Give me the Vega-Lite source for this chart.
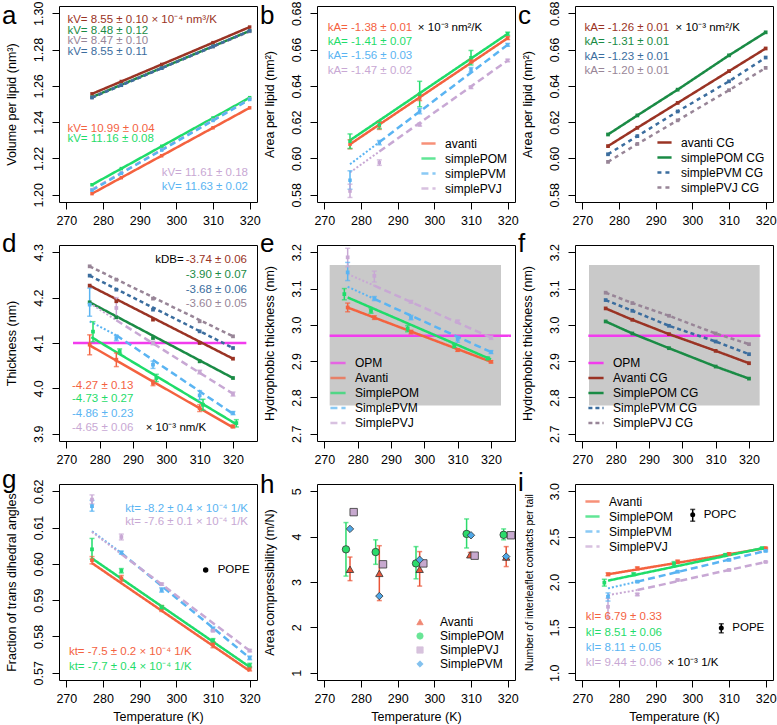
{
"$schema": "https://vega.github.io/schema/vega-lite/v6.json",
"padding": {"left": 1, "top": 0, "right": 4, "bottom": 2},
"columns": 3,
"bounds": "flush",
"spacing": {"row": 43, "column": 60},
"resolve": {"scale": {"color": "independent", "strokeDash": "independent", "shape": "independent"}, "legend": {"color": "independent", "strokeDash": "independent", "shape": "independent"}},
"config": {
 "font": "Liberation Sans",
 "view": {"stroke": "black", "strokeWidth": 1},
 "axis": {"grid": false, "domain": false, "tickColor": "black", "tickSize": 7, "tickWidth": 1, "labelColor": "black", "labelFontSize": 12.5, "labelPadding": 7, "labelFlush": false, "labelOverlap": false, "titleFontSize": 12.5, "titleFontWeight": "normal", "titleColor": "black"},
 "axisY": {"labelAngle": -90, "labelAlign": "center", "labelBaseline": "bottom", "titlePadding": 14},
 "axisX": {"titlePadding": 6, "labelPadding": 5},
 "legend": {"labelFontSize": 12, "labelColor": "black", "rowPadding": 0, "padding": 0, "labelOffset": 8},
 "title": {"anchor": "start", "frame": "group", "fontSize": 26, "fontWeight": "normal", "color": "black", "offset": 0, "dx": -57, "dy": 32, "baseline": "alphabetic"},
 "text": {"fontSize": 11.5, "align": "left", "baseline": "middle"},
 "tick": {"thickness": 1.5}
},
"datasets": {
 "a": [
  {"s":"avanti CG","T":277,"v":1.2556},{"s":"avanti CG","T":285,"v":1.2624},{"s":"avanti CG","T":296,"v":1.2718},{"s":"avanti CG","T":310,"v":1.2838},{"s":"avanti CG","T":320,"v":1.2924},
  {"s":"simplePOM CG","T":277,"v":1.2538},{"s":"simplePOM CG","T":285,"v":1.2606},{"s":"simplePOM CG","T":296,"v":1.2699},{"s":"simplePOM CG","T":310,"v":1.2818},{"s":"simplePOM CG","T":320,"v":1.2903},
  {"s":"simplePVJ CG","T":277,"v":1.2536},{"s":"simplePVJ CG","T":285,"v":1.2604},{"s":"simplePVJ CG","T":296,"v":1.2697},{"s":"simplePVJ CG","T":310,"v":1.2816},{"s":"simplePVJ CG","T":320,"v":1.2900},
  {"s":"simplePVM CG","T":277,"v":1.2535},{"s":"simplePVM CG","T":285,"v":1.2603},{"s":"simplePVM CG","T":296,"v":1.2697},{"s":"simplePVM CG","T":310,"v":1.2817},{"s":"simplePVM CG","T":320,"v":1.2903},
  {"s":"avanti","T":277,"v":1.2006},{"s":"avanti","T":285,"v":1.2094},{"s":"avanti","T":296,"v":1.2215},{"s":"avanti","T":310,"v":1.2369},{"s":"avanti","T":320,"v":1.2479},
  {"s":"simplePOM","T":277,"v":1.2055},{"s":"simplePOM","T":285,"v":1.2144},{"s":"simplePOM","T":296,"v":1.2267},{"s":"simplePOM","T":310,"v":1.2423},{"s":"simplePOM","T":320,"v":1.2535},
  {"s":"simplePVJ","T":277,"v":1.2028},{"s":"simplePVJ","T":285,"v":1.2121},{"s":"simplePVJ","T":296,"v":1.2249},{"s":"simplePVJ","T":310,"v":1.2411},{"s":"simplePVJ","T":320,"v":1.2527},
  {"s":"simplePVM","T":277,"v":1.2025},{"s":"simplePVM","T":285,"v":1.2118},{"s":"simplePVM","T":296,"v":1.2246},{"s":"simplePVM","T":310,"v":1.2409},{"s":"simplePVM","T":320,"v":1.2525}
 ],
 "b": [
  {"s":"avanti","T":277,"v":0.6078,"lo":0.6053,"hi":0.6103},{"s":"avanti","T":285,"v":0.6180,"lo":0.6160,"hi":0.6200},{"s":"avanti","T":296,"v":0.6334,"lo":0.6319,"hi":0.6349},{"s":"avanti","T":310,"v":0.6535,"lo":0.6525,"hi":0.6545},{"s":"avanti","T":320,"v":0.6663,"lo":0.6655,"hi":0.6671},
  {"s":"simplePOM","T":277,"v":0.6095,"lo":0.6055,"hi":0.6135},{"s":"simplePOM","T":285,"v":0.6185,"lo":0.6165,"hi":0.6205},{"s":"simplePOM","T":296,"v":0.6355,"lo":0.6285,"hi":0.6425},{"s":"simplePOM","T":310,"v":0.6555,"lo":0.6515,"hi":0.6595},{"s":"simplePOM","T":320,"v":0.6687,"lo":0.6678,"hi":0.6696},
  {"s":"simplePVM","T":277,"v":0.5880,"lo":0.5830,"hi":0.5932},{"s":"simplePVM","T":285,"v":0.6087,"lo":0.6075,"hi":0.6099},{"s":"simplePVM","T":296,"v":0.6261,"lo":0.6246,"hi":0.6276},{"s":"simplePVM","T":310,"v":0.6489,"lo":0.6477,"hi":0.6501},{"s":"simplePVM","T":320,"v":0.6626,"lo":0.6618,"hi":0.6634},
  {"s":"simplePVJ","T":277,"v":0.5820,"lo":0.5785,"hi":0.5858},{"s":"simplePVJ","T":285,"v":0.5977,"lo":0.5962,"hi":0.5992},{"s":"simplePVJ","T":296,"v":0.6186,"lo":0.6178,"hi":0.6194},{"s":"simplePVJ","T":310,"v":0.6392,"lo":0.6385,"hi":0.6399},{"s":"simplePVJ","T":320,"v":0.6540,"lo":0.6533,"hi":0.6547}
 ],
 "bf": [
  {"s":"avanti","p":"m","T":277,"v":0.6078},{"s":"avanti","p":"m","T":320,"v":0.6663},
  {"s":"simplePOM","p":"m","T":277,"v":0.6100},{"s":"simplePOM","p":"m","T":320,"v":0.6687},
  {"s":"simplePVM","p":"x","T":277,"v":0.5968},{"s":"simplePVM","p":"x","T":285,"v":0.6090},
  {"s":"simplePVM","p":"m","T":285,"v":0.6090},{"s":"simplePVM","p":"m","T":320,"v":0.6626},
  {"s":"simplePVJ","p":"x","T":277,"v":0.5923},{"s":"simplePVJ","p":"x","T":285,"v":0.6038},
  {"s":"simplePVJ","p":"m","T":285,"v":0.6038},{"s":"simplePVJ","p":"m","T":320,"v":0.6540}
 ],
 "c": [
  {"s":"avanti CG","T":277,"v":0.6068},{"s":"avanti CG","T":285,"v":0.6169},{"s":"avanti CG","T":296,"v":0.6306},{"s":"avanti CG","T":310,"v":0.6481},{"s":"avanti CG","T":320,"v":0.6606},
  {"s":"simplePOM CG","T":277,"v":0.6132},{"s":"simplePOM CG","T":285,"v":0.6237},{"s":"simplePOM CG","T":296,"v":0.6379},{"s":"simplePOM CG","T":310,"v":0.6568},{"s":"simplePOM CG","T":320,"v":0.6695},
  {"s":"simplePVM CG","T":277,"v":0.6023},{"s":"simplePVM CG","T":285,"v":0.6123},{"s":"simplePVM CG","T":296,"v":0.6259},{"s":"simplePVM CG","T":310,"v":0.6425},{"s":"simplePVM CG","T":320,"v":0.6556},
  {"s":"simplePVJ CG","T":277,"v":0.5981},{"s":"simplePVJ CG","T":285,"v":0.6080},{"s":"simplePVJ CG","T":296,"v":0.6210},{"s":"simplePVJ CG","T":310,"v":0.6376},{"s":"simplePVJ CG","T":320,"v":0.6499}
 ],
 "d": [
  {"s":"avanti CG","T":277,"v":4.2265},{"s":"avanti CG","T":285,"v":4.192},{"s":"avanti CG","T":296,"v":4.1515},{"s":"avanti CG","T":310,"v":4.100},{"s":"avanti CG","T":320,"v":4.0654},
  {"s":"simplePOM CG","T":277,"v":4.1897},{"s":"simplePOM CG","T":285,"v":4.1566},{"s":"simplePOM CG","T":296,"v":4.111},{"s":"simplePOM CG","T":310,"v":4.0596},{"s":"simplePOM CG","T":320,"v":4.0228},
  {"s":"simplePVM CG","T":277,"v":4.2485},{"s":"simplePVM CG","T":285,"v":4.2176},{"s":"simplePVM CG","T":296,"v":4.1735},{"s":"simplePVM CG","T":310,"v":4.1257},{"s":"simplePVM CG","T":320,"v":4.089},
  {"s":"simplePVJ CG","T":277,"v":4.269},{"s":"simplePVJ CG","T":285,"v":4.2397},{"s":"simplePVJ CG","T":296,"v":4.1978},{"s":"simplePVJ CG","T":310,"v":4.1478},{"s":"simplePVJ CG","T":320,"v":4.1147},
  {"s":"avanti","T":277,"v":4.0963,"lo":4.074,"hi":4.118},{"s":"avanti","T":285,"v":4.0632,"lo":4.048,"hi":4.078},{"s":"avanti","T":296,"v":4.0118,"lo":4.006,"hi":4.018},{"s":"avanti","T":310,"v":3.9566,"lo":3.949,"hi":3.964},{"s":"avanti","T":320,"v":3.9162,"lo":3.913,"hi":3.919},
  {"s":"simplePOM","T":278,"v":4.125,"lo":4.103,"hi":4.147},{"s":"simplePOM","T":286,"v":4.0816,"lo":4.077,"hi":4.087},{"s":"simplePOM","T":297,"v":4.0228,"lo":4.015,"hi":4.031},{"s":"simplePOM","T":311,"v":3.964,"lo":3.952,"hi":3.976},{"s":"simplePOM","T":321,"v":3.9235,"lo":3.915,"hi":3.931},
  {"s":"simplePVM","T":277,"v":4.1846,"lo":4.159,"hi":4.221},{"s":"simplePVM","T":285,"v":4.111,"lo":4.105,"hi":4.117},{"s":"simplePVM","T":296,"v":4.0522,"lo":4.044,"hi":4.060},{"s":"simplePVM","T":310,"v":3.9846,"lo":3.975,"hi":3.995},{"s":"simplePVM","T":320,"v":3.9456,"lo":3.942,"hi":3.949},
  {"s":"simplePVJ","T":285,"v":4.1772,"lo":4.155,"hi":4.20},{"s":"simplePVJ","T":296,"v":4.10,"lo":4.096,"hi":4.104},{"s":"simplePVJ","T":310,"v":4.036,"lo":4.032,"hi":4.040},{"s":"simplePVJ","T":320,"v":3.9875,"lo":3.983,"hi":3.992}
 ],
 "df": [
  {"s":"avanti CG","p":"m","T":277,"v":4.2265},{"s":"avanti CG","p":"m","T":320,"v":4.0654},
  {"s":"simplePOM CG","p":"m","T":277,"v":4.1897},{"s":"simplePOM CG","p":"m","T":320,"v":4.0228},
  {"s":"simplePVM CG","p":"m","T":277,"v":4.2485},{"s":"simplePVM CG","p":"m","T":320,"v":4.089},
  {"s":"simplePVJ CG","p":"m","T":277,"v":4.269},{"s":"simplePVJ CG","p":"m","T":320,"v":4.1147},
  {"s":"avanti","p":"m","T":277,"v":4.0949},{"s":"avanti","p":"m","T":320,"v":3.914},
  {"s":"simplePOM","p":"m","T":277.5,"v":4.113},{"s":"simplePOM","p":"m","T":321,"v":3.921},
  {"s":"simplePVM","p":"x","T":277,"v":4.1478},{"s":"simplePVM","p":"x","T":285,"v":4.117},
  {"s":"simplePVM","p":"m","T":285,"v":4.117},{"s":"simplePVM","p":"m","T":320,"v":3.944},
  {"s":"simplePVJ","p":"x","T":277,"v":4.188},{"s":"simplePVJ","p":"x","T":285,"v":4.150},
  {"s":"simplePVJ","p":"m","T":285,"v":4.150},{"s":"simplePVJ","p":"m","T":320,"v":3.988}
 ],
 "e": [
  {"s":"Avanti","T":277,"v":3.0478,"lo":3.036,"hi":3.060},{"s":"Avanti","T":285,"v":3.020,"lo":3.015,"hi":3.025},{"s":"Avanti","T":296,"v":2.9804,"lo":2.975,"hi":2.985},{"s":"Avanti","T":310,"v":2.9306,"lo":2.927,"hi":2.934},{"s":"Avanti","T":320,"v":2.8983,"lo":2.895,"hi":2.901},
  {"s":"SimplePOM","T":276,"v":3.0847,"lo":3.069,"hi":3.100},{"s":"SimplePOM","T":284,"v":3.0386,"lo":3.032,"hi":3.045},{"s":"SimplePOM","T":295,"v":2.9897,"lo":2.981,"hi":2.998},{"s":"SimplePOM","T":309,"v":2.9417,"lo":2.937,"hi":2.946},{"s":"SimplePOM","T":319,"v":2.9076,"lo":2.904,"hi":2.911},
  {"s":"SimplePVM","T":277,"v":3.1446,"lo":3.122,"hi":3.172},{"s":"SimplePVM","T":285,"v":3.0727,"lo":3.067,"hi":3.078},{"s":"SimplePVM","T":296,"v":3.020,"lo":3.014,"hi":3.026},{"s":"SimplePVM","T":310,"v":2.9601,"lo":2.952,"hi":2.968},{"s":"SimplePVM","T":320,"v":2.925,"lo":2.921,"hi":2.929},
  {"s":"SimplePVJ","T":277,"v":3.186,"lo":3.160,"hi":3.211},{"s":"SimplePVJ","T":285,"v":3.135,"lo":3.118,"hi":3.148},{"s":"SimplePVJ","T":296,"v":3.0635,"lo":3.060,"hi":3.067},{"s":"SimplePVJ","T":310,"v":3.009,"lo":3.005,"hi":3.013},{"s":"SimplePVJ","T":320,"v":2.9647,"lo":2.960,"hi":2.969}
 ],
 "ef": [
  {"s":"Avanti","p":"m","T":277,"v":3.0478},{"s":"Avanti","p":"m","T":320,"v":2.8983},
  {"s":"SimplePOM","p":"m","T":277,"v":3.0755},{"s":"SimplePOM","p":"m","T":320,"v":2.9048},
  {"s":"SimplePVM","p":"x","T":277,"v":3.105},{"s":"SimplePVM","p":"x","T":285,"v":3.0715},
  {"s":"SimplePVM","p":"m","T":285,"v":3.0715},{"s":"SimplePVM","p":"m","T":320,"v":2.925},
  {"s":"SimplePVJ","p":"x","T":277,"v":3.14},{"s":"SimplePVJ","p":"x","T":285,"v":3.108},
  {"s":"SimplePVJ","p":"m","T":285,"v":3.108},{"s":"SimplePVJ","p":"m","T":320,"v":2.965}
 ],
 "f": [
  {"s":"Avanti CG","T":277,"v":3.0453},{"s":"Avanti CG","T":285,"v":3.014},{"s":"Avanti CG","T":296,"v":2.9744},{"s":"Avanti CG","T":310,"v":2.9284},{"s":"Avanti CG","T":320,"v":2.8943},
  {"s":"SimplePOM CG","T":277,"v":3.0094},{"s":"SimplePOM CG","T":285,"v":2.9762},{"s":"SimplePOM CG","T":296,"v":2.9357},{"s":"SimplePOM CG","T":310,"v":2.8851},{"s":"SimplePOM CG","T":320,"v":2.8519},
  {"s":"SimplePVM CG","T":277,"v":3.0683},{"s":"SimplePVM CG","T":285,"v":3.0389},{"s":"SimplePVM CG","T":296,"v":2.9974},{"s":"SimplePVM CG","T":310,"v":2.9541},{"s":"SimplePVM CG","T":320,"v":2.9192},
  {"s":"SimplePVJ CG","T":277,"v":3.0886},{"s":"SimplePVJ CG","T":285,"v":3.06},{"s":"SimplePVJ CG","T":296,"v":3.025},{"s":"SimplePVJ CG","T":310,"v":2.9762},{"s":"SimplePVJ CG","T":320,"v":2.9468}
 ],
 "g": [
  {"s":"avanti","T":277,"v":0.6010,"lo":0.6000,"hi":0.6020},{"s":"avanti","T":285,"v":0.5960,"lo":0.5952,"hi":0.5968},{"s":"avanti","T":296,"v":0.5877,"lo":0.5869,"hi":0.5885},{"s":"avanti","T":310,"v":0.5777,"lo":0.5769,"hi":0.5785},{"s":"avanti","T":320,"v":0.5711,"lo":0.5705,"hi":0.5717},
  {"s":"simplePOM","T":277,"v":0.6040,"lo":0.6013,"hi":0.6070},{"s":"simplePOM","T":285,"v":0.5981,"lo":0.5975,"hi":0.5987},{"s":"simplePOM","T":296,"v":0.5880,"lo":0.5875,"hi":0.5885},{"s":"simplePOM","T":310,"v":0.5789,"lo":0.5784,"hi":0.5794},{"s":"simplePOM","T":320,"v":0.5720,"lo":0.5714,"hi":0.5726},
  {"s":"simplePVM","T":277,"v":0.6159,"lo":0.6145,"hi":0.6175},{"s":"simplePVM","T":285,"v":0.6031,"lo":0.6027,"hi":0.6035},{"s":"simplePVM","T":296,"v":0.5928,"lo":0.5922,"hi":0.5934},{"s":"simplePVM","T":310,"v":0.5821,"lo":0.5816,"hi":0.5826},{"s":"simplePVM","T":320,"v":0.5741,"lo":0.5736,"hi":0.5746},
  {"s":"simplePVJ","T":277,"v":0.6177,"lo":0.6165,"hi":0.6190},{"s":"simplePVJ","T":285,"v":0.6074,"lo":0.6066,"hi":0.6082},{"s":"simplePVJ","T":296,"v":0.5944,"lo":0.5941,"hi":0.5947},{"s":"simplePVJ","T":310,"v":0.5816,"lo":0.5813,"hi":0.5819},{"s":"simplePVJ","T":320,"v":0.5761,"lo":0.5758,"hi":0.5764}
 ],
 "gf": [
  {"s":"avanti","p":"m","T":277,"v":0.6002},{"s":"avanti","p":"m","T":320,"v":0.5705},
  {"s":"simplePOM","p":"m","T":277,"v":0.6015},{"s":"simplePOM","p":"m","T":320,"v":0.5716},
  {"s":"simplePVM","p":"x","T":277,"v":0.6090},{"s":"simplePVM","p":"x","T":285,"v":0.6030},
  {"s":"simplePVM","p":"m","T":285,"v":0.6030},{"s":"simplePVM","p":"m","T":320,"v":0.5741},
  {"s":"simplePVJ","p":"x","T":277,"v":0.6088},{"s":"simplePVJ","p":"x","T":285,"v":0.6027},
  {"s":"simplePVJ","p":"m","T":285,"v":0.6027},{"s":"simplePVJ","p":"m","T":320,"v":0.5761}
 ],
 "h": [
  {"s":"Avanti","T":277,"v":3.28,"lo":3.03,"hi":3.55},{"s":"Avanti","T":285,"v":3.19,"lo":2.59,"hi":3.80},{"s":"Avanti","T":296,"v":3.28,"lo":2.91,"hi":3.67},{"s":"Avanti","T":309.8,"v":3.60,"lo":3.55,"hi":3.65},{"s":"Avanti","T":319.6,"v":3.55,"lo":3.34,"hi":3.78},
  {"s":"SimplePOM","T":275.9,"v":3.72,"lo":3.13,"hi":4.31},{"s":"SimplePOM","T":284,"v":3.66,"lo":3.39,"hi":3.93},{"s":"SimplePOM","T":295,"v":3.41,"lo":3.07,"hi":3.78},{"s":"SimplePOM","T":308.8,"v":4.06,"lo":3.75,"hi":4.39},{"s":"SimplePOM","T":318.9,"v":4.04,"lo":3.93,"hi":4.17},
  {"s":"SimplePVJ","T":278,"v":4.54},{"s":"SimplePVJ","T":286,"v":3.39},{"s":"SimplePVJ","T":297,"v":3.41},{"s":"SimplePVJ","T":311,"v":3.58},{"s":"SimplePVJ","T":320.9,"v":4.03},
  {"s":"SimplePVM","T":277,"v":4.17},{"s":"SimplePVM","T":285,"v":2.69},{"s":"SimplePVM","T":296,"v":3.49},{"s":"SimplePVM","T":310,"v":4.03},{"s":"SimplePVM","T":319.6,"v":3.56}
 ],
 "i": [
  {"s":"Avanti","T":277,"v":2.085,"lo":2.07,"hi":2.10},{"s":"Avanti","T":285,"v":2.151,"lo":2.135,"hi":2.165},{"s":"Avanti","T":296,"v":2.225,"lo":2.21,"hi":2.24},{"s":"Avanti","T":310,"v":2.31,"lo":2.30,"hi":2.32},{"s":"Avanti","T":320,"v":2.373,"lo":2.365,"hi":2.38},
  {"s":"SimplePOM","T":276,"v":1.993,"lo":1.955,"hi":2.03},{"s":"SimplePOM","T":284,"v":2.085,"lo":2.07,"hi":2.10},{"s":"SimplePOM","T":295,"v":2.20,"lo":2.175,"hi":2.225},{"s":"SimplePOM","T":309,"v":2.30,"lo":2.29,"hi":2.31},{"s":"SimplePOM","T":319,"v":2.373,"lo":2.365,"hi":2.38},
  {"s":"SimplePVM","T":277,"v":1.838,"lo":1.79,"hi":1.88},{"s":"SimplePVM","T":285,"v":2.004,"lo":1.995,"hi":2.013},{"s":"SimplePVM","T":296,"v":2.114,"lo":2.105,"hi":2.123},{"s":"SimplePVM","T":310,"v":2.244,"lo":2.235,"hi":2.253},{"s":"SimplePVM","T":320,"v":2.343,"lo":2.335,"hi":2.35},
  {"s":"SimplePVJ","T":277,"v":1.727,"lo":1.60,"hi":1.82},{"s":"SimplePVJ","T":285,"v":1.863,"lo":1.85,"hi":1.875},{"s":"SimplePVJ","T":296,"v":2.022,"lo":2.015,"hi":2.03},{"s":"SimplePVJ","T":310,"v":2.133,"lo":2.125,"hi":2.14},{"s":"SimplePVJ","T":320,"v":2.221,"lo":2.215,"hi":2.227}
 ],
 "if": [
  {"s":"Avanti","p":"m","T":277,"v":2.085},{"s":"Avanti","p":"m","T":320,"v":2.373},
  {"s":"SimplePOM","p":"m","T":277,"v":2.015},{"s":"SimplePOM","p":"m","T":320,"v":2.38},
  {"s":"SimplePVM","p":"x","T":277,"v":1.93},{"s":"SimplePVM","p":"x","T":285,"v":2.004},
  {"s":"SimplePVM","p":"m","T":285,"v":2.004},{"s":"SimplePVM","p":"m","T":320,"v":2.343},
  {"s":"SimplePVJ","p":"x","T":277,"v":1.856},{"s":"SimplePVJ","p":"x","T":285,"v":1.911},
  {"s":"SimplePVJ","p":"m","T":285,"v":1.911},{"s":"SimplePVJ","p":"m","T":320,"v":2.221}
 ],
 "ref": [
  {"s":"POPC","T":300.1,"v":2.742,"lo":2.67,"hi":2.80},
  {"s":"POPE","T":307.9,"v":1.494,"lo":1.44,"hi":1.54}
 ],
 "refg": [
  {"s":"POPE","T":308,"v":0.5983}
 ]
},
"concat": [
 {
  "title": "a", "width": 198, "height": 196,
  "data": {"name": "a"},
  "encoding": {
   "x": {"field": "T", "type": "quantitative", "scale": {"domain": [268, 322], "nice": false, "zero": false}, "axis": {"values": [270, 280, 290, 300, 310, 320], "title": null}},
   "y": {"field": "v", "type": "quantitative", "scale": {"domain": [1.196, 1.304], "nice": false, "zero": false}, "axis": {"values": [1.2, 1.22, 1.24, 1.26, 1.28, 1.3], "format": ".2f", "title": "Volume per lipid (nm³)"}},
   "color": {"field": "s", "type": "nominal", "scale": {"domain": ["avanti CG", "simplePOM CG", "simplePVJ CG", "simplePVM CG", "avanti", "simplePOM", "simplePVJ", "simplePVM"], "range": ["#9A3324", "#1A8B45", "#988597", "#3B6D9E", "#F4623F", "#1FDC6A", "#C8A8D4", "#5AB4F2"]}, "legend": null}
  },
  "layer": [
   {"mark": {"type": "line", "strokeWidth": 2.5}, "encoding": {"strokeDash": {"field": "s", "type": "nominal", "scale": {"domain": ["avanti CG", "simplePOM CG", "simplePVJ CG", "simplePVM CG", "avanti", "simplePOM", "simplePVJ", "simplePVM"], "range": [[1, 0], [1, 0], [4, 3], [4, 3], [1, 0], [1, 0], [6, 4], [6, 4]]}, "legend": null}}},
   {"mark": {"type": "point", "shape": "square", "filled": true, "size": 12, "opacity": 1}},
   {"transform": [{"filter": "datum.s == 'avanti' && datum.T == 320"}], "mark": {"type": "text", "text": "kV= 8.55 ± 0.10 × 10⁻⁴ nm³/K"}, "encoding": {"x": {"datum": 270.3}, "y": {"datum": 1.2963}, "color": {"value": "#9A3324"}}},
   {"transform": [{"filter": "datum.s == 'avanti' && datum.T == 320"}], "mark": {"type": "text", "text": "kV= 8.48 ± 0.12"}, "encoding": {"x": {"datum": 270.3}, "y": {"datum": 1.2904}, "color": {"value": "#1A8B45"}}},
   {"transform": [{"filter": "datum.s == 'avanti' && datum.T == 320"}], "mark": {"type": "text", "text": "kV= 8.47 ± 0.10"}, "encoding": {"x": {"datum": 270.3}, "y": {"datum": 1.2845}, "color": {"value": "#988597"}}},
   {"transform": [{"filter": "datum.s == 'avanti' && datum.T == 320"}], "mark": {"type": "text", "text": "kV= 8.55 ± 0.11"}, "encoding": {"x": {"datum": 270.3}, "y": {"datum": 1.2786}, "color": {"value": "#3B6D9E"}}},
   {"transform": [{"filter": "datum.s == 'avanti' && datum.T == 320"}], "mark": {"type": "text", "text": "kV= 10.99 ± 0.04"}, "encoding": {"x": {"datum": 270.3}, "y": {"datum": 1.2364}, "color": {"value": "#F4623F"}}},
   {"transform": [{"filter": "datum.s == 'avanti' && datum.T == 320"}], "mark": {"type": "text", "text": "kV= 11.16 ± 0.08"}, "encoding": {"x": {"datum": 270.3}, "y": {"datum": 1.2305}, "color": {"value": "#1FDC6A"}}},
   {"transform": [{"filter": "datum.s == 'avanti' && datum.T == 320"}], "mark": {"type": "text", "text": "kV= 11.61 ± 0.18"}, "encoding": {"x": {"datum": 296}, "y": {"datum": 1.2118}, "color": {"value": "#C8A8D4"}}},
   {"transform": [{"filter": "datum.s == 'avanti' && datum.T == 320"}], "mark": {"type": "text", "text": "kV= 11.63 ± 0.02"}, "encoding": {"x": {"datum": 296}, "y": {"datum": 1.2044}, "color": {"value": "#5AB4F2"}}}
  ]
 },
 {
  "title": "b", "width": 198, "height": 196,
  "data": {"name": "b"},
  "encoding": {
   "x": {"field": "T", "type": "quantitative", "scale": {"domain": [268, 322], "nice": false, "zero": false}, "axis": {"values": [270, 280, 290, 300, 310, 320], "title": null}},
   "y": {"field": "v", "type": "quantitative", "scale": {"domain": [0.576, 0.684], "nice": false, "zero": false}, "axis": {"values": [0.58, 0.6, 0.62, 0.64, 0.66, 0.68], "format": ".2f", "title": "Area per lipid (nm²)"}},
   "color": {"field": "s", "type": "nominal", "scale": {"domain": ["avanti", "simplePOM", "simplePVM", "simplePVJ"], "range": ["#F4623F", "#1FDC6A", "#5AB4F2", "#C8A8D4"]}, "legend": {"title": null, "orient": "bottom-right", "offset": 7, "symbolType": "stroke", "symbolSize": 200, "symbolStrokeWidth": 2.5}}
  },
  "layer": [
   {"data": {"name": "bf"}, "transform": [{"filter": "datum.p == 'm'"}], "mark": {"type": "line", "strokeWidth": 2.5}, "encoding": {"strokeDash": {"field": "s", "type": "nominal", "scale": {"domain": ["avanti", "simplePOM", "simplePVM", "simplePVJ"], "range": [[1, 0], [1, 0], [7, 4], [7, 4]]}, "legend": {"title": null, "orient": "bottom-right", "offset": 7, "symbolType": "stroke", "symbolSize": 200, "symbolStrokeWidth": 2.5}}}},
   {"data": {"name": "bf"}, "transform": [{"filter": "datum.p == 'x'"}], "mark": {"type": "line", "strokeWidth": 2, "strokeDash": [2, 2]}},
   {"transform": [{"filter": {"field": "lo", "valid": true}}], "mark": {"type": "rule", "strokeWidth": 1.5}, "encoding": {"y": {"field": "lo", "type": "quantitative"}, "y2": {"field": "hi"}}},
   {"transform": [{"filter": {"field": "lo", "valid": true}}], "mark": {"type": "tick", "orient": "horizontal", "size": 5}, "encoding": {"y": {"field": "lo", "type": "quantitative"}}},
   {"transform": [{"filter": {"field": "lo", "valid": true}}], "mark": {"type": "tick", "orient": "horizontal", "size": 5}, "encoding": {"y": {"field": "hi", "type": "quantitative"}}},
   {"mark": {"type": "point", "shape": "square", "filled": true, "size": 12, "opacity": 1}},
   {"transform": [{"filter": "datum.s == 'avanti' && datum.T == 320"}], "mark": {"type": "text", "text": "kA= -1.38 ± 0.01"}, "encoding": {"x": {"datum": 270.9}, "y": {"datum": 0.6718}, "color": {"value": "#F4623F"}}},
   {"transform": [{"filter": "datum.s == 'avanti' && datum.T == 320"}], "mark": {"type": "text", "text": "× 10⁻³ nm²/K"}, "encoding": {"x": {"datum": 295.5}, "y": {"datum": 0.6718}, "color": {"value": "black"}}},
   {"transform": [{"filter": "datum.s == 'avanti' && datum.T == 320"}], "mark": {"type": "text", "text": "kA= -1.41 ± 0.07"}, "encoding": {"x": {"datum": 270.9}, "y": {"datum": 0.6639}, "color": {"value": "#1FDC6A"}}},
   {"transform": [{"filter": "datum.s == 'avanti' && datum.T == 320"}], "mark": {"type": "text", "text": "kA= -1.56 ± 0.03"}, "encoding": {"x": {"datum": 270.9}, "y": {"datum": 0.6562}, "color": {"value": "#5AB4F2"}}},
   {"transform": [{"filter": "datum.s == 'avanti' && datum.T == 320"}], "mark": {"type": "text", "text": "kA= -1.47 ± 0.02"}, "encoding": {"x": {"datum": 270.9}, "y": {"datum": 0.648}, "color": {"value": "#C8A8D4"}}}
  ]
 },
 {
  "title": "c", "width": 198, "height": 196,
  "data": {"name": "c"},
  "encoding": {
   "x": {"field": "T", "type": "quantitative", "scale": {"domain": [268, 322], "nice": false, "zero": false}, "axis": {"values": [270, 280, 290, 300, 310, 320], "title": null}},
   "y": {"field": "v", "type": "quantitative", "scale": {"domain": [0.576, 0.684], "nice": false, "zero": false}, "axis": {"values": [0.58, 0.6, 0.62, 0.64, 0.66, 0.68], "format": ".2f", "title": "Area per lipid (nm²)"}},
   "color": {"field": "s", "type": "nominal", "scale": {"domain": ["avanti CG", "simplePOM CG", "simplePVM CG", "simplePVJ CG"], "range": ["#9A3324", "#1A8B45", "#3B6D9E", "#988597"]}, "legend": {"title": null, "orient": "bottom-right", "offset": 8, "symbolType": "stroke", "symbolSize": 200, "symbolStrokeWidth": 2.5}}
  },
  "layer": [
   {"mark": {"type": "line", "strokeWidth": 2.5}, "encoding": {"strokeDash": {"field": "s", "type": "nominal", "scale": {"domain": ["avanti CG", "simplePOM CG", "simplePVM CG", "simplePVJ CG"], "range": [[1, 0], [1, 0], [4, 4], [4, 4]]}, "legend": {"title": null, "orient": "bottom-right", "offset": 8, "symbolType": "stroke", "symbolSize": 200, "symbolStrokeWidth": 2.5}}}},
   {"mark": {"type": "point", "shape": "square", "filled": true, "size": 14, "opacity": 1}},
   {"transform": [{"filter": "datum.s == 'avanti CG' && datum.T == 320"}], "mark": {"type": "text", "text": "kA= -1.26 ± 0.01"}, "encoding": {"x": {"datum": 270.6}, "y": {"datum": 0.6717}, "color": {"value": "#9A3324"}}},
   {"transform": [{"filter": "datum.s == 'avanti CG' && datum.T == 320"}], "mark": {"type": "text", "text": "× 10⁻³ nm²/K"}, "encoding": {"x": {"datum": 295.4}, "y": {"datum": 0.6717}, "color": {"value": "black"}}},
   {"transform": [{"filter": "datum.s == 'avanti CG' && datum.T == 320"}], "mark": {"type": "text", "text": "kA= -1.31 ± 0.01"}, "encoding": {"x": {"datum": 270.6}, "y": {"datum": 0.6641}, "color": {"value": "#1A8B45"}}},
   {"transform": [{"filter": "datum.s == 'avanti CG' && datum.T == 320"}], "mark": {"type": "text", "text": "kA= -1.23 ± 0.01"}, "encoding": {"x": {"datum": 270.6}, "y": {"datum": 0.656}, "color": {"value": "#3B6D9E"}}},
   {"transform": [{"filter": "datum.s == 'avanti CG' && datum.T == 320"}], "mark": {"type": "text", "text": "kA= -1.20 ± 0.01"}, "encoding": {"x": {"datum": 270.6}, "y": {"datum": 0.6483}, "color": {"value": "#988597"}}}
  ]
 },
 {
  "title": {"text": "d", "dy": 17.5}, "width": 198, "height": 196,
  "data": {"name": "d"},
  "encoding": {
   "x": {"field": "T", "type": "quantitative", "scale": {"domain": [267.8, 327.2], "nice": false, "zero": false}, "axis": {"values": [270, 280, 290, 300, 310, 320], "title": null}},
   "y": {"field": "v", "type": "quantitative", "scale": {"domain": [3.884, 4.316], "nice": false, "zero": false}, "axis": {"values": [3.9, 4.0, 4.1, 4.2, 4.3], "format": ".1f", "title": "Thickness (nm)"}},
   "color": {"field": "s", "type": "nominal", "scale": {"domain": ["avanti CG", "simplePOM CG", "simplePVM CG", "simplePVJ CG", "avanti", "simplePOM", "simplePVM", "simplePVJ"], "range": ["#9A3324", "#1A8B45", "#3B6D9E", "#988597", "#F4623F", "#1FDC6A", "#5AB4F2", "#C8A8D4"]}, "legend": null}
  },
  "layer": [
   {"transform": [{"filter": "datum.s == 'avanti CG' && datum.T == 320"}], "mark": {"type": "rule", "strokeWidth": 2.5}, "encoding": {"x": {"datum": 272}, "x2": {"datum": 324}, "y": {"datum": 4.1}, "color": {"value": "#F23CEE"}}},
   {"data": {"name": "df"}, "transform": [{"filter": "datum.p == 'm'"}], "mark": {"type": "line", "strokeWidth": 2.5}, "encoding": {"strokeDash": {"field": "s", "type": "nominal", "scale": {"domain": ["avanti CG", "simplePOM CG", "simplePVM CG", "simplePVJ CG", "avanti", "simplePOM", "simplePVM", "simplePVJ"], "range": [[1, 0], [1, 0], [4, 3], [4, 3], [1, 0], [1, 0], [7, 4], [7, 4]]}, "legend": null}}},
   {"data": {"name": "df"}, "transform": [{"filter": "datum.p == 'x'"}], "mark": {"type": "line", "strokeWidth": 2, "strokeDash": [2, 2]}},
   {"transform": [{"filter": {"field": "lo", "valid": true}}], "mark": {"type": "rule", "strokeWidth": 1.5}, "encoding": {"y": {"field": "lo", "type": "quantitative"}, "y2": {"field": "hi"}}},
   {"transform": [{"filter": {"field": "lo", "valid": true}}], "mark": {"type": "tick", "orient": "horizontal", "size": 5}, "encoding": {"y": {"field": "lo", "type": "quantitative"}}},
   {"transform": [{"filter": {"field": "lo", "valid": true}}], "mark": {"type": "tick", "orient": "horizontal", "size": 5}, "encoding": {"y": {"field": "hi", "type": "quantitative"}}},
   {"mark": {"type": "point", "shape": "square", "filled": true, "size": 14, "opacity": 1}},
   {"transform": [{"filter": "datum.s == 'avanti CG' && datum.T == 320"}], "mark": {"type": "text", "text": "kDB=", "align": "right"}, "encoding": {"x": {"datum": 305.2}, "y": {"datum": 4.2824}, "color": {"value": "black"}}},
   {"transform": [{"filter": "datum.s == 'avanti CG' && datum.T == 320"}], "mark": {"type": "text", "text": "-3.74 ± 0.06"}, "encoding": {"x": {"datum": 305.8}, "y": {"datum": 4.2824}, "color": {"value": "#9A3324"}}},
   {"transform": [{"filter": "datum.s == 'avanti CG' && datum.T == 320"}], "mark": {"type": "text", "text": "-3.90 ± 0.07"}, "encoding": {"x": {"datum": 305.8}, "y": {"datum": 4.2507}, "color": {"value": "#1A8B45"}}},
   {"transform": [{"filter": "datum.s == 'avanti CG' && datum.T == 320"}], "mark": {"type": "text", "text": "-3.68 ± 0.06"}, "encoding": {"x": {"datum": 305.8}, "y": {"datum": 4.2176}, "color": {"value": "#3B6D9E"}}},
   {"transform": [{"filter": "datum.s == 'avanti CG' && datum.T == 320"}], "mark": {"type": "text", "text": "-3.60 ± 0.05"}, "encoding": {"x": {"datum": 305.8}, "y": {"datum": 4.186}, "color": {"value": "#988597"}}},
   {"transform": [{"filter": "datum.s == 'avanti CG' && datum.T == 320"}], "mark": {"type": "text", "text": "-4.27 ± 0.13"}, "encoding": {"x": {"datum": 271.7}, "y": {"datum": 4.0059}, "color": {"value": "#F4623F"}}},
   {"transform": [{"filter": "datum.s == 'avanti CG' && datum.T == 320"}], "mark": {"type": "text", "text": "-4.73 ± 0.27"}, "encoding": {"x": {"datum": 271.7}, "y": {"datum": 3.9765}, "color": {"value": "#1FDC6A"}}},
   {"transform": [{"filter": "datum.s == 'avanti CG' && datum.T == 320"}], "mark": {"type": "text", "text": "-4.86 ± 0.23"}, "encoding": {"x": {"datum": 271.7}, "y": {"datum": 3.9434}, "color": {"value": "#5AB4F2"}}},
   {"transform": [{"filter": "datum.s == 'avanti CG' && datum.T == 320"}], "mark": {"type": "text", "text": "-4.65 ± 0.06"}, "encoding": {"x": {"datum": 271.7}, "y": {"datum": 3.9125}, "color": {"value": "#C8A8D4"}}},
   {"transform": [{"filter": "datum.s == 'avanti CG' && datum.T == 320"}], "mark": {"type": "text", "text": "× 10⁻³ nm/K"}, "encoding": {"x": {"datum": 293.8}, "y": {"datum": 3.9125}, "color": {"value": "black"}}}
  ]
 },
 {
  "title": {"text": "e", "dy": 17.5}, "width": 198, "height": 196,
  "data": {"name": "e"},
  "encoding": {
   "x": {"field": "T", "type": "quantitative", "scale": {"domain": [267.8, 327.2], "nice": false, "zero": false}, "axis": {"values": [270, 280, 290, 300, 310, 320], "title": null}},
   "y": {"field": "v", "type": "quantitative", "scale": {"domain": [2.68, 3.22], "nice": false, "zero": false}, "axis": {"values": [2.7, 2.8, 2.9, 3.0, 3.1, 3.2], "format": ".1f", "title": "Hydrophobic thickness (nm)"}},
   "color": {"field": "s", "type": "nominal", "scale": {"domain": ["OPM", "Avanti", "SimplePOM", "SimplePVM", "SimplePVJ"], "range": ["#F23CEE", "#F4623F", "#1FDC6A", "#5AB4F2", "#C8A8D4"]}, "legend": {"title": null, "orient": "bottom-left", "offset": 12, "symbolType": "stroke", "symbolSize": 230, "symbolStrokeWidth": 2.5}}
  },
  "layer": [
   {"transform": [{"filter": "datum.s == 'Avanti' && datum.T == 320"}], "mark": {"type": "rect"}, "encoding": {"x": {"datum": 271.6}, "x2": {"datum": 323}, "y": {"datum": 2.778}, "y2": {"datum": 3.165}, "color": {"value": "#C9C9C9"}}},
   {"transform": [{"filter": "datum.s == 'Avanti' && datum.T == 320"}], "mark": {"type": "rule", "strokeWidth": 2.5}, "encoding": {"x": {"datum": 271.6}, "x2": {"datum": 326}, "y": {"datum": 2.97}, "color": {"datum": "OPM"}, "strokeDash": {"datum": "OPM"}}},
   {"data": {"name": "ef"}, "transform": [{"filter": "datum.p == 'm'"}], "mark": {"type": "line", "strokeWidth": 2.5}, "encoding": {"strokeDash": {"field": "s", "type": "nominal", "scale": {"domain": ["OPM", "Avanti", "SimplePOM", "SimplePVM", "SimplePVJ"], "range": [[1, 0], [1, 0], [1, 0], [7, 4], [7, 4]]}, "legend": {"title": null, "orient": "bottom-left", "offset": 12, "symbolType": "stroke", "symbolSize": 230, "symbolStrokeWidth": 2.5}}}},
   {"data": {"name": "ef"}, "transform": [{"filter": "datum.p == 'x'"}], "mark": {"type": "line", "strokeWidth": 2, "strokeDash": [2, 2]}},
   {"transform": [{"filter": {"field": "lo", "valid": true}}], "mark": {"type": "rule", "strokeWidth": 1.5}, "encoding": {"y": {"field": "lo", "type": "quantitative"}, "y2": {"field": "hi"}}},
   {"transform": [{"filter": {"field": "lo", "valid": true}}], "mark": {"type": "tick", "orient": "horizontal", "size": 5}, "encoding": {"y": {"field": "lo", "type": "quantitative"}}},
   {"transform": [{"filter": {"field": "lo", "valid": true}}], "mark": {"type": "tick", "orient": "horizontal", "size": 5}, "encoding": {"y": {"field": "hi", "type": "quantitative"}}},
   {"mark": {"type": "point", "shape": "square", "filled": true, "size": 14, "opacity": 1}}
  ]
 },
 {
  "title": {"text": "f", "dy": 17.5}, "width": 198, "height": 196,
  "data": {"name": "f"},
  "encoding": {
   "x": {"field": "T", "type": "quantitative", "scale": {"domain": [267.8, 327.2], "nice": false, "zero": false}, "axis": {"values": [270, 280, 290, 300, 310, 320], "title": null}},
   "y": {"field": "v", "type": "quantitative", "scale": {"domain": [2.68, 3.22], "nice": false, "zero": false}, "axis": {"values": [2.7, 2.8, 2.9, 3.0, 3.1, 3.2], "format": ".1f", "title": "Hydrophobic thickness (nm)"}},
   "color": {"field": "s", "type": "nominal", "scale": {"domain": ["OPM", "Avanti CG", "SimplePOM CG", "SimplePVM CG", "SimplePVJ CG"], "range": ["#F23CEE", "#9A3324", "#1A8B45", "#3B6D9E", "#988597"]}, "legend": {"title": null, "orient": "bottom-left", "offset": 12, "symbolType": "stroke", "symbolSize": 230, "symbolStrokeWidth": 2.5}}
  },
  "layer": [
   {"transform": [{"filter": "datum.s == 'Avanti CG' && datum.T == 320"}], "mark": {"type": "rect"}, "encoding": {"x": {"datum": 272}, "x2": {"datum": 323.2}, "y": {"datum": 2.778}, "y2": {"datum": 3.165}, "color": {"value": "#C9C9C9"}}},
   {"transform": [{"filter": "datum.s == 'Avanti CG' && datum.T == 320"}], "mark": {"type": "rule", "strokeWidth": 2.5}, "encoding": {"x": {"datum": 271.8}, "x2": {"datum": 323.4}, "y": {"datum": 2.97}, "color": {"datum": "OPM"}, "strokeDash": {"datum": "OPM"}}},
   {"mark": {"type": "line", "strokeWidth": 2.5}, "encoding": {"strokeDash": {"field": "s", "type": "nominal", "scale": {"domain": ["OPM", "Avanti CG", "SimplePOM CG", "SimplePVM CG", "SimplePVJ CG"], "range": [[1, 0], [1, 0], [1, 0], [4, 3], [4, 3]]}, "legend": {"title": null, "orient": "bottom-left", "offset": 12, "symbolType": "stroke", "symbolSize": 230, "symbolStrokeWidth": 2.5}}}},
   {"mark": {"type": "point", "shape": "square", "filled": true, "size": 14, "opacity": 1}}
  ]
 },
 {
  "title": {"text": "g", "dy": 17.5}, "width": 198, "height": 196,
  "data": {"name": "g"},
  "encoding": {
   "x": {"field": "T", "type": "quantitative", "scale": {"domain": [268, 322], "nice": false, "zero": false}, "axis": {"values": [270, 280, 290, 300, 310, 320], "title": "Temperature (K)"}},
   "y": {"field": "v", "type": "quantitative", "scale": {"domain": [0.568, 0.622], "nice": false, "zero": false}, "axis": {"values": [0.57, 0.58, 0.59, 0.6, 0.61, 0.62], "format": ".2f", "title": "Fraction of trans dihedral angles"}},
   "color": {"field": "s", "type": "nominal", "scale": {"domain": ["avanti", "simplePOM", "simplePVM", "simplePVJ"], "range": ["#F4623F", "#1FDC6A", "#5AB4F2", "#C8A8D4"]}, "legend": null}
  },
  "layer": [
   {"data": {"name": "gf"}, "transform": [{"filter": "datum.p == 'm'"}], "mark": {"type": "line", "strokeWidth": 2.5}, "encoding": {"strokeDash": {"field": "s", "type": "nominal", "scale": {"domain": ["avanti", "simplePOM", "simplePVM", "simplePVJ"], "range": [[1, 0], [1, 0], [7, 4], [7, 4]]}, "legend": null}}},
   {"data": {"name": "gf"}, "transform": [{"filter": "datum.p == 'x'"}], "mark": {"type": "line", "strokeWidth": 2, "strokeDash": [2, 2]}},
   {"transform": [{"filter": {"field": "lo", "valid": true}}], "mark": {"type": "rule", "strokeWidth": 1.5}, "encoding": {"y": {"field": "lo", "type": "quantitative"}, "y2": {"field": "hi"}}},
   {"transform": [{"filter": {"field": "lo", "valid": true}}], "mark": {"type": "tick", "orient": "horizontal", "size": 5}, "encoding": {"y": {"field": "lo", "type": "quantitative"}}},
   {"transform": [{"filter": {"field": "lo", "valid": true}}], "mark": {"type": "tick", "orient": "horizontal", "size": 5}, "encoding": {"y": {"field": "hi", "type": "quantitative"}}},
   {"mark": {"type": "point", "shape": "square", "filled": true, "size": 14, "opacity": 1}},
   {"data": {"name": "refg"}, "mark": {"type": "point", "shape": "circle", "filled": true, "size": 30, "opacity": 1}, "encoding": {"color": {"value": "black"}}},
   {"data": {"name": "refg"}, "mark": {"type": "text", "dx": 12}, "encoding": {"text": {"field": "s"}, "color": {"value": "black"}}},
   {"transform": [{"filter": "datum.s == 'avanti' && datum.T == 320"}], "mark": {"type": "text", "text": "kt= -8.2 ± 0.4 × 10⁻⁴ 1/K"}, "encoding": {"x": {"datum": 286.1}, "y": {"datum": 0.6152}, "color": {"value": "#5AB4F2"}}},
   {"transform": [{"filter": "datum.s == 'avanti' && datum.T == 320"}], "mark": {"type": "text", "text": "kt= -7.6 ± 0.1 × 10⁻⁴ 1/K"}, "encoding": {"x": {"datum": 286.1}, "y": {"datum": 0.6116}, "color": {"value": "#C8A8D4"}}},
   {"transform": [{"filter": "datum.s == 'avanti' && datum.T == 320"}], "mark": {"type": "text", "text": "kt= -7.5 ± 0.2 × 10⁻⁴ 1/K"}, "encoding": {"x": {"datum": 270.7}, "y": {"datum": 0.5757}, "color": {"value": "#F4623F"}}},
   {"transform": [{"filter": "datum.s == 'avanti' && datum.T == 320"}], "mark": {"type": "text", "text": "kt= -7.7 ± 0.4 × 10⁻⁴ 1/K"}, "encoding": {"x": {"datum": 270.7}, "y": {"datum": 0.5717}, "color": {"value": "#1FDC6A"}}}
  ]
 },
 {
  "title": {"text": "h", "dy": 17.5}, "width": 198, "height": 196,
  "data": {"name": "h"},
  "encoding": {
   "x": {"field": "T", "type": "quantitative", "scale": {"domain": [268, 322], "nice": false, "zero": false}, "axis": {"values": [270, 280, 290, 300, 310, 320], "title": "Temperature (K)"}},
   "y": {"field": "v", "type": "quantitative", "scale": {"domain": [0.84, 5.16], "nice": false, "zero": false}, "axis": {"values": [1, 2, 3, 4, 5], "format": "d", "title": "Area compressibility (m/N)"}},
   "color": {"field": "s", "type": "nominal", "scale": {"domain": ["Avanti", "SimplePOM", "SimplePVJ", "SimplePVM"], "range": ["#EA5538", "#2BDB6B", "#C7A9CF", "#4FA8E8"]}, "legend": {"title": null, "orient": "bottom-right", "offset": 10, "symbolSize": 40, "symbolStrokeColor": "#333", "symbolStrokeWidth": 0.8, "labelOffset": 14, "rowPadding": 2}}
  },
  "layer": [
   {"transform": [{"filter": {"field": "lo", "valid": true}}], "mark": {"type": "rule", "strokeWidth": 1.5}, "encoding": {"y": {"field": "lo", "type": "quantitative"}, "y2": {"field": "hi"}}},
   {"transform": [{"filter": {"field": "lo", "valid": true}}], "mark": {"type": "tick", "orient": "horizontal", "size": 5}, "encoding": {"y": {"field": "lo", "type": "quantitative"}}},
   {"transform": [{"filter": {"field": "lo", "valid": true}}], "mark": {"type": "tick", "orient": "horizontal", "size": 5}, "encoding": {"y": {"field": "hi", "type": "quantitative"}}},
   {"mark": {"type": "point", "filled": true, "stroke": "#333", "strokeWidth": 0.8, "size": 55, "opacity": 1}, "encoding": {"shape": {"field": "s", "type": "nominal", "scale": {"domain": ["Avanti", "SimplePOM", "SimplePVJ", "SimplePVM"], "range": ["triangle-up", "circle", "square", "diamond"]}, "legend": {"title": null, "orient": "bottom-right", "offset": 10, "symbolSize": 40, "symbolStrokeColor": "#333", "symbolStrokeWidth": 0.8, "labelOffset": 14, "rowPadding": 2}}}}
  ]
 },
 {
  "title": {"text": "i", "dy": 17.5}, "width": 198, "height": 196,
  "data": {"name": "i"},
  "encoding": {
   "x": {"field": "T", "type": "quantitative", "scale": {"domain": [268, 322], "nice": false, "zero": false}, "axis": {"values": [270, 280, 290, 300, 310, 320], "title": "Temperature (K)"}},
   "y": {"field": "v", "type": "quantitative", "scale": {"domain": [0.92, 3.08], "nice": false, "zero": false}, "axis": {"values": [1.0, 1.5, 2.0, 2.5, 3.0], "format": ".1f", "title": "Number of interleaflet contacts per tail", "titleFontSize": 10.5}},
   "color": {"field": "s", "type": "nominal", "scale": {"domain": ["Avanti", "SimplePOM", "SimplePVM", "SimplePVJ"], "range": ["#F4623F", "#1FDC6A", "#5AB4F2", "#C8A8D4"]}, "legend": {"title": null, "orient": "top-left", "offset": 9, "symbolType": "stroke", "symbolSize": 200, "symbolStrokeWidth": 2.5}}
  },
  "layer": [
   {"data": {"name": "if"}, "transform": [{"filter": "datum.p == 'm'"}], "mark": {"type": "line", "strokeWidth": 2.5}, "encoding": {"strokeDash": {"field": "s", "type": "nominal", "scale": {"domain": ["Avanti", "SimplePOM", "SimplePVM", "SimplePVJ"], "range": [[1, 0], [1, 0], [7, 4], [7, 4]]}, "legend": {"title": null, "orient": "top-left", "offset": 9, "symbolType": "stroke", "symbolSize": 200, "symbolStrokeWidth": 2.5}}}},
   {"data": {"name": "if"}, "transform": [{"filter": "datum.p == 'x'"}], "mark": {"type": "line", "strokeWidth": 2, "strokeDash": [2, 2]}},
   {"transform": [{"filter": {"field": "lo", "valid": true}}], "mark": {"type": "rule", "strokeWidth": 1.5}, "encoding": {"y": {"field": "lo", "type": "quantitative"}, "y2": {"field": "hi"}}},
   {"transform": [{"filter": {"field": "lo", "valid": true}}], "mark": {"type": "tick", "orient": "horizontal", "size": 5}, "encoding": {"y": {"field": "lo", "type": "quantitative"}}},
   {"transform": [{"filter": {"field": "lo", "valid": true}}], "mark": {"type": "tick", "orient": "horizontal", "size": 5}, "encoding": {"y": {"field": "hi", "type": "quantitative"}}},
   {"mark": {"type": "point", "shape": "square", "filled": true, "size": 14, "opacity": 1}},
   {"data": {"name": "ref"}, "mark": {"type": "rule", "strokeWidth": 1.5}, "encoding": {"y": {"field": "lo", "type": "quantitative"}, "y2": {"field": "hi"}, "color": {"value": "black"}}},
   {"data": {"name": "ref"}, "mark": {"type": "tick", "orient": "horizontal", "size": 5}, "encoding": {"y": {"field": "lo", "type": "quantitative"}, "color": {"value": "black"}}},
   {"data": {"name": "ref"}, "mark": {"type": "tick", "orient": "horizontal", "size": 5}, "encoding": {"y": {"field": "hi", "type": "quantitative"}, "color": {"value": "black"}}},
   {"data": {"name": "ref"}, "mark": {"type": "point", "shape": "circle", "filled": true, "size": 25, "opacity": 1}, "encoding": {"color": {"value": "black"}}},
   {"data": {"name": "ref"}, "mark": {"type": "text", "dx": 11}, "encoding": {"text": {"field": "s"}, "color": {"value": "black"}}},
   {"transform": [{"filter": "datum.s == 'Avanti' && datum.T == 320"}], "mark": {"type": "text", "text": "kI= 6.79 ± 0.33"}, "encoding": {"x": {"datum": 270.9}, "y": {"datum": 1.609}, "color": {"value": "#F4623F"}}},
   {"transform": [{"filter": "datum.s == 'Avanti' && datum.T == 320"}], "mark": {"type": "text", "text": "kI= 8.51 ± 0.06"}, "encoding": {"x": {"datum": 270.9}, "y": {"datum": 1.443}, "color": {"value": "#1FDC6A"}}},
   {"transform": [{"filter": "datum.s == 'Avanti' && datum.T == 320"}], "mark": {"type": "text", "text": "kI= 8.11 ± 0.05"}, "encoding": {"x": {"datum": 270.9}, "y": {"datum": 1.277}, "color": {"value": "#5AB4F2"}}},
   {"transform": [{"filter": "datum.s == 'Avanti' && datum.T == 320"}], "mark": {"type": "text", "text": "kI= 9.44 ± 0.06"}, "encoding": {"x": {"datum": 270.9}, "y": {"datum": 1.111}, "color": {"value": "#C8A8D4"}}},
   {"transform": [{"filter": "datum.s == 'Avanti' && datum.T == 320"}], "mark": {"type": "text", "text": "× 10⁻³ 1/K"}, "encoding": {"x": {"datum": 293.2}, "y": {"datum": 1.111}, "color": {"value": "black"}}}
  ]
 }
]
}
